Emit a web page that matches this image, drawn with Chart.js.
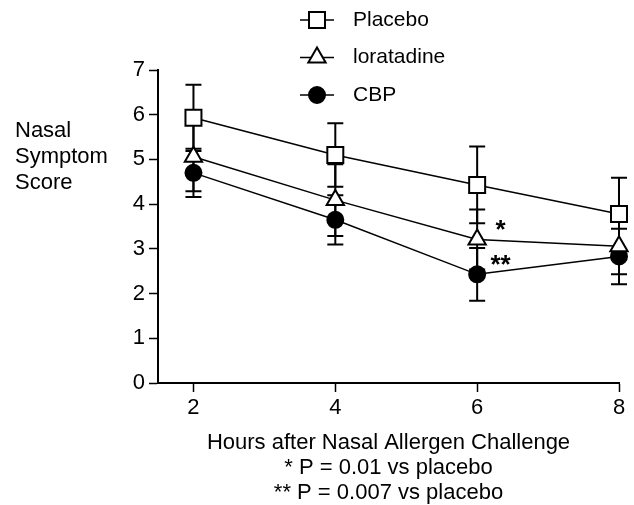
<!DOCTYPE html>
<html>
<head>
<meta charset="utf-8">
<script src="https://cdn.jsdelivr.net/npm/chart.js@4.4.0/dist/chart.umd.min.js"></script>
<style>
body { margin: 0; background: #fff; }
</style>
</head>
<body>
<canvas id="nasalChart" width="634" height="505"></canvas>
<script>
const hours = [2, 4, 6, 8];
const xTicks = [2, 4, 6, 8];
const seriesNames = ['Placebo', 'loratadine', 'CBP'];
// mean score and error per time point
const placebo = [5.93, 5.1, 4.43, 3.78];
const placeboErr = [0.74, 0.71, 0.86, 0.81];
const loratadine = [5.06, 4.09, 3.21, 3.06];
const loratadineErr = [0.77, 0.8, 0.67, 0.63];
const cbp = [4.7, 3.65, 2.43, 2.83];
const cbpErr = [0.54, 0.55, 0.59, 0.62];
const yTitle = ['Nasal', 'Symptom', 'Score'];
const xTitle = ['Hours after Nasal Allergen Challenge', '* P = 0.01 vs placebo', '** P = 0.007 vs placebo'];
// significance marks next to the 6 h points
const starText = ['*', '**'];
const starX = [6.33, 6.33];
const starY = [3.57, 2.8];

const fontFamily = '"Liberation Sans", Arial, sans-serif';
const black = '#000';

function points(values) {
    return hours.map((h, i) => ({ x: h, y: values[i] }));
}

function drawMarker(ctx, ds, x, y) {
    ctx.save();
    ctx.fillStyle = ds.pointBackgroundColor;
    ctx.strokeStyle = black;
    ctx.lineWidth = ds.pointBorderWidth;
    Chart.helpers.drawPoint(ctx, {
        pointStyle: ds.pointStyle,
        radius: ds.pointRadius,
        borderWidth: ds.pointBorderWidth,
        rotation: 0
    }, x, y);
    ctx.restore();
}

// vertical error bars, drawn under the markers
const errorBars = {
    id: 'errorBars',
    beforeDatasetsDraw(chart) {
        const ctx = chart.ctx;
        const yScale = chart.scales.y;
        ctx.save();
        ctx.strokeStyle = black;
        ctx.lineWidth = 2;
        chart.data.datasets.forEach((ds, i) => {
            chart.getDatasetMeta(i).data.forEach((pt, j) => {
                const v = ds.data[j].y;
                const top = yScale.getPixelForValue(v + ds.err[j]);
                const bottom = yScale.getPixelForValue(v - ds.err[j]);
                ctx.beginPath();
                ctx.moveTo(pt.x, top);
                ctx.lineTo(pt.x, bottom);
                ctx.moveTo(pt.x - 8, top);
                ctx.lineTo(pt.x + 8, top);
                ctx.moveTo(pt.x - 8, bottom);
                ctx.lineTo(pt.x + 8, bottom);
                ctx.stroke();
            });
        });
        ctx.restore();
    }
};

const stars = {
    id: 'stars',
    afterDatasetsDraw(chart) {
        const ctx = chart.ctx;
        const size = 26;
        ctx.save();
        ctx.fillStyle = black;
        ctx.font = 'bold ' + size + 'px ' + fontFamily;
        ctx.textAlign = 'center';
        ctx.textBaseline = 'alphabetic';
        starText.forEach((t, i) => {
            const x = chart.scales.x.getPixelForValue(starX[i]);
            const y = chart.scales.y.getPixelForValue(starY[i]);
            ctx.fillText(t, x, y + size * 0.57);
        });
        ctx.restore();
    }
};

// horizontal y title at the far left
const sideTitle = {
    id: 'sideTitle',
    afterDraw(chart) {
        const ctx = chart.ctx;
        ctx.save();
        ctx.fillStyle = black;
        ctx.font = '22px ' + fontFamily;
        ctx.textAlign = 'left';
        ctx.textBaseline = 'middle';
        yTitle.forEach((t, i) => ctx.fillText(t, 15, 131 + i * 26));
        ctx.restore();
    }
};

// stacked legend at the top: line + marker + name
const seriesKey = {
    id: 'seriesKey',
    afterDraw(chart) {
        const ctx = chart.ctx;
        chart.data.datasets.forEach((ds, i) => {
            const y = 20 + i * 37.5;
            ctx.save();
            ctx.strokeStyle = black;
            ctx.lineWidth = 1.5;
            ctx.beginPath();
            ctx.moveTo(300, y);
            ctx.lineTo(334, y);
            ctx.stroke();
            ctx.restore();
            drawMarker(ctx, ds, 317, y);
            ctx.save();
            ctx.fillStyle = black;
            ctx.font = '21px ' + fontFamily;
            ctx.textAlign = 'left';
            ctx.textBaseline = 'middle';
            ctx.fillText(ds.label, 353, y);
            ctx.restore();
        });
    }
};

const common = {
    borderColor: black,
    borderWidth: 1.5,
    pointBorderColor: black,
    pointBorderWidth: 2,
    tension: 0,
    clip: false
};

new Chart(document.getElementById('nasalChart'), {
    type: 'line',
    data: {
        datasets: [
            Object.assign({}, common, {
                label: seriesNames[0],
                data: points(placebo),
                err: placeboErr,
                pointStyle: 'rect',
                pointRadius: 11.3,
                pointBackgroundColor: '#fff'
            }),
            Object.assign({}, common, {
                label: seriesNames[1],
                data: points(loratadine),
                err: loratadineErr,
                pointStyle: 'triangle',
                pointRadius: 10,
                pointBackgroundColor: '#fff'
            }),
            Object.assign({}, common, {
                label: seriesNames[2],
                data: points(cbp),
                err: cbpErr,
                pointStyle: 'circle',
                pointRadius: 8,
                pointBackgroundColor: black
            })
        ]
    },
    options: {
        responsive: false,
        animation: false,
        layout: {
            padding: { top: 70, right: 15, left: 0, bottom: 0 }
        },
        plugins: {
            legend: { display: false },
            tooltip: { enabled: false }
        },
        scales: {
            x: {
                type: 'linear',
                min: 1.5,
                max: 8,
                afterBuildTicks: s => { s.ticks = xTicks.map(v => ({ value: v })); },
                afterFit: s => { s.height = 122; },
                grid: {
                    drawOnChartArea: false,
                    tickLength: 9,
                    tickColor: black,
                    tickWidth: 1.5
                },
                border: { color: black, width: 2 },
                ticks: {
                    color: black,
                    padding: 3,
                    font: { family: fontFamily, size: 22 }
                },
                title: {
                    display: true,
                    text: xTitle,
                    color: black,
                    padding: 0,
                    font: { family: fontFamily, size: 22, lineHeight: '25px' }
                }
            },
            y: {
                min: 0,
                max: 7,
                afterFit: s => { s.width = 158; },
                grid: {
                    drawOnChartArea: false,
                    tickLength: 9,
                    tickColor: black,
                    tickWidth: 1.5
                },
                border: { color: black, width: 2 },
                ticks: {
                    stepSize: 1,
                    color: black,
                    padding: 4,
                    font: { family: fontFamily, size: 22 }
                }
            }
        }
    },
    plugins: [errorBars, stars, sideTitle, seriesKey]
});
</script>
</body>
</html>
